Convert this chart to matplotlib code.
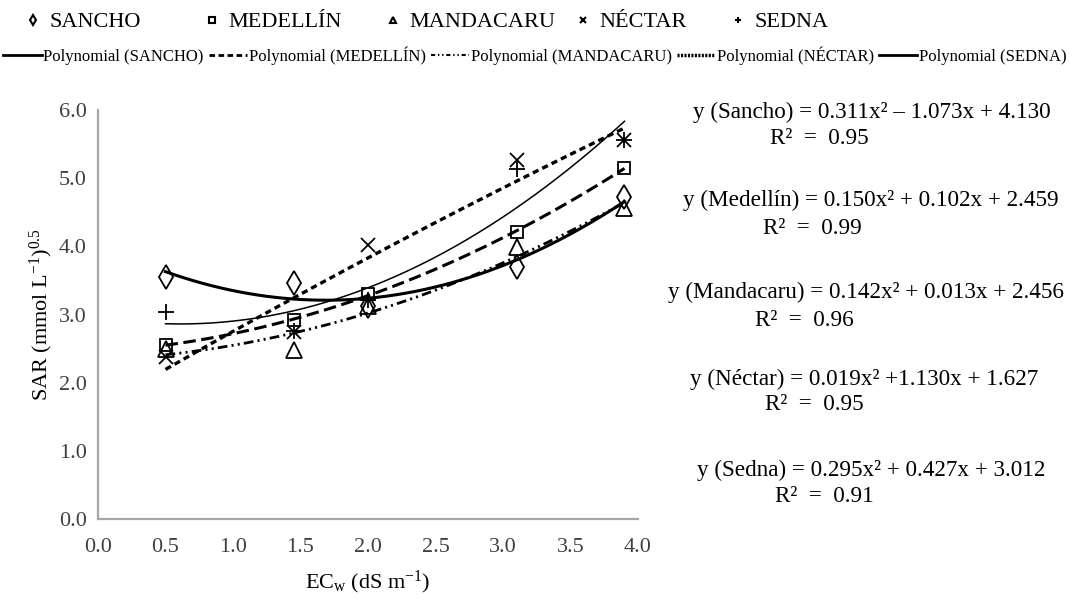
import numpy as np
import matplotlib
matplotlib.use('Agg')
import matplotlib.pyplot as plt
from matplotlib.lines import Line2D

plt.rcParams['font.family'] = ['Liberation Serif', 'DejaVu Serif']
plt.rcParams['mathtext.fontset'] = 'custom'
plt.rcParams['mathtext.rm'] = 'Liberation Serif'
plt.rcParams['mathtext.it'] = 'Liberation Serif:italic'
plt.rcParams['lines.scale_dashes'] = False

# ---- data ----
ecw = [0.5, 1.45, 2.0, 3.1, 3.9]
sancho = [3.55, 3.46, 3.12, 3.70, 4.72]
medellin = [2.55, 2.92, 3.30, 4.21, 5.15]
mandacaru = [2.50, 2.48, 3.12, 3.99, 4.56]
nectar = [2.38, 2.74, 4.02, 5.26, 5.56]
sedna = [3.04, 2.76, 3.22, 5.13, 5.56]

series_names = ['SANCHO', 'MEDELLÍN', 'MANDACARU', 'NÉCTAR', 'SEDNA']
equations = ['y (Sancho) = 0.311x² – 1.073x + 4.130',
             'y (Medellín) = 0.150x² + 0.102x + 2.459',
             'y (Mandacaru) = 0.142x² + 0.013x + 2.456',
             'y (Néctar) = 0.019x² +1.130x + 1.627',
             'y (Sedna) = 0.295x² + 0.427x + 3.012']
r2_labels = ['R²  =  0.95', 'R²  =  0.99', 'R²  =  0.96', 'R²  =  0.95', 'R²  =  0.91']
x_ticks = [0.0, 0.5, 1.0, 1.5, 2.0, 2.5, 3.0, 3.5, 4.0]
y_ticks = [0.0, 1.0, 2.0, 3.0, 4.0, 5.0, 6.0]

# ---- styles ----
all_y = [sancho, medellin, mandacaru, nectar, sedna]
markers = ['d', 's', '^', 'x', '+']
msizes = [12, 9, 11, 10, 11]
line_styles = ['-', (0, (9, 4)), (0, (7, 3, 1.5, 3, 1.5, 3)), (0, (4.5, 3)), '-']
line_widths = [2.2, 2.2, 2.0, 2.4, 1.1]
legend_styles = ['-', (0, (4, 2.5)), (0, (3, 2, 1, 2, 1, 2)), (0, (1.5, 1)), '-']

W, H = 1070, 607
fig = plt.figure(figsize=(W / 100, H / 100), dpi=100)
ax = fig.add_axes([98 / W, 1 - 519 / H, 540 / W, 409 / H])

xs = np.linspace(min(ecw), max(ecw), 200)
for y, mk, ms, ls, lw in zip(all_y, markers, msizes, line_styles, line_widths):
    coef = np.polyfit(ecw, y, 2)
    ax.plot(xs, np.polyval(coef, xs), color='black', lw=lw, linestyle=ls)
    ax.plot(ecw, y, linestyle='none', marker=mk, ms=ms, mfc='none',
            mec='black', mew=1.3)

ax.set_xlim(0, 4)
ax.set_ylim(0, 6)
ax.set_xticks(x_ticks)
ax.set_yticks(y_ticks)
ax.set_xticklabels([f'{v:.1f}' for v in x_ticks])
ax.set_yticklabels([f'{v:.1f}' for v in y_ticks])
ax.tick_params(axis='both', length=0, labelsize=16, colors='#404040')
ax.tick_params(axis='x', pad=14)
ax.tick_params(axis='y', pad=8)
for s in ['top', 'right']:
    ax.spines[s].set_visible(False)
for s in ['left', 'bottom']:
    ax.spines[s].set_color('#a6a6a6')
    ax.spines[s].set_linewidth(1.6)

ax.set_xlabel('EC$_{\\mathregular{w}}$ (dS m$^{\\mathregular{-1}}$)', fontsize=16, labelpad=8)
ax.set_ylabel('SAR (mmol L$^{\\mathregular{-1}}$)$^{\\mathregular{0.5}}$', fontsize=16, labelpad=3)

# legend row 1 (markers), one entry per slot as in the original layout
row1_left = [26, 205, 386, 576, 731]
for mk, name, lx in zip(markers, series_names, row1_left):
    h = Line2D([], [], linestyle='none', marker=mk, ms=5, mfc='none', mec='black', mew=1.5)
    fig.legend([h], [name], loc='center left', bbox_to_anchor=(lx / W, 1 - 22 / H),
               frameon=False, fontsize=16, handlelength=0.6, handletextpad=0.45,
               borderaxespad=0, borderpad=0)

# legend row 2 (trend lines)
leg_l = [Line2D([], [], color='black', lw=lw, linestyle=ls)
         for lw, ls in zip([2.0, 2.0, 1.5, 2.5, 2.0], legend_styles)]
fig.legend(leg_l, [f'Polynomial ({n})' for n in series_names], loc='center left',
           bbox_to_anchor=(0.0, 1 - 56 / H), ncol=5, frameon=False, fontsize=12,
           handlelength=2.3, handletextpad=0.1, columnspacing=0.3,
           borderaxespad=0, borderpad=0.2)

# equations
eq_pos = [(693, 112), (683, 200), (668, 292), (690, 379), (697, 470)]
r2_pos = [(770, 139), (763, 229), (755, 320), (765, 405), (775, 497)]
for txt, (px, py) in zip(equations, eq_pos):
    fig.text(px / W, 1 - py / H, txt, fontsize=16.7, ha='left', va='center')
for txt, (px, py) in zip(r2_labels, r2_pos):
    fig.text(px / W, 1 - py / H, txt, fontsize=16.7, ha='left', va='center')

fig.savefig('out.png', dpi=100)
